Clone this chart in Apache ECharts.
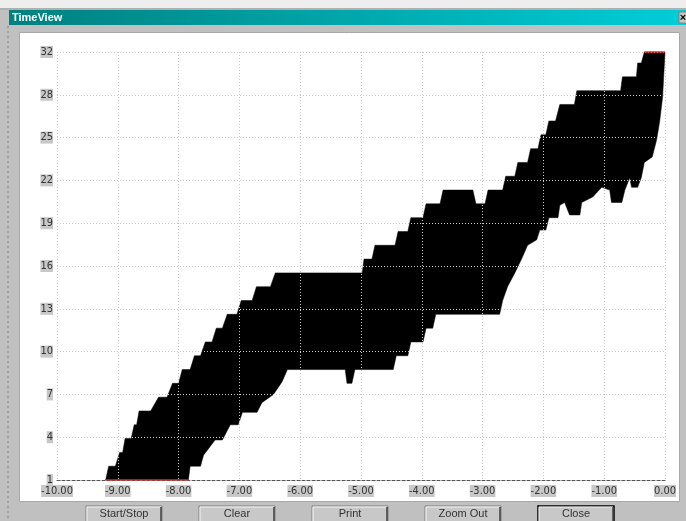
<!DOCTYPE html>
<html><head><meta charset="utf-8">
<script src="https://cdn.jsdelivr.net/npm/echarts@6/dist/echarts.min.js"></script>
<style>html,body{margin:0;padding:0;background:#c0c0c0;overflow:hidden}#c{width:686px;height:521px;}</style>
</head><body><div id="c"></div>
<script>
// ---- data ----
const xTickLabels = ['-10.00','-9.00','-8.00','-7.00','-6.00','-5.00','-4.00','-3.00','-2.00','-1.00','0.00'];
const yTickLabels = ['1','4','7','10','13','16','19','22','25','28','32'];

// upper boundary of the black band (left -> right)
const upperX = [-9.20,-9.15,-9.04,-8.97,-8.92,-8.88,-8.78,-8.73,-8.69,-8.65,-8.46,-8.33,-8.19,-8.10,-8.00,-7.94,-7.81,-7.74,-7.64,-7.56,-7.45,-7.38,-7.28,-7.20,-7.04,-6.97,-6.79,-6.72,-6.49,-6.41,-4.98,-4.95,-4.82,-4.77,-4.44,-4.39,-4.23,-4.18,-3.98,-3.93,-3.70,-3.65,-3.16,-3.11,-2.96,-2.91,-2.67,-2.62,-2.47,-2.42,-2.26,-2.21,-2.09,-2.04,-1.96,-1.91,-1.80,-1.73,-1.49,-1.45,-0.73,-0.70,-0.47,-0.45,-0.39,-0.34,0.00];
const upperY = [1,2,2,3,3,4,4,5,5,6,6,7,7,8,8,9,9,10,10,11,11,12,12,13,13,14,14,15,15,16,16,17,17,18,18,19,19,20,20,21,21,22,22,21,21,22,22,23,23,24,24,25,25,26,26,27,27,28.2,28.2,29.2,29.2,30.2,30.2,31.2,31.2,32,32];

// lower boundary of the black band (left -> right)
const lowerX = [-9.20,-7.84,-7.81,-7.64,-7.59,-7.40,-7.28,-7.15,-7.02,-6.95,-6.71,-6.63,-6.44,-6.30,-6.21,-5.26,-5.23,-5.15,-5.10,-4.47,-4.42,-4.23,-4.18,-3.98,-3.93,-3.82,-3.77,-2.72,-2.67,-2.59,-2.47,-2.36,-2.26,-2.11,-2.06,-1.96,-1.91,-1.76,-1.73,-1.65,-1.57,-1.40,-1.37,-1.19,-1.04,-0.91,-0.88,-0.71,-0.66,-0.58,-0.55,-0.45,-0.39,-0.34,-0.21,-0.14,-0.09,-0.04,0.00];
const lowerY = [1,1,2,2,2.8,3.9,3.9,5,5,5.9,5.9,6.6,7.2,8.1,9,9,8,8,9,9,10,10,11,11,12,12,13,13,14,15,16,17,18,18.4,19.1,19.1,20,20,20.9,21.1,20.2,20.2,21.1,21.5,22.2,22,21.1,21.1,22,22.9,22.2,22.2,22.9,24,24.4,25.6,26.9,28.7,32];

// red edge segments
const redBottomX = [-9.20,-7.84], redBottomY = [1,1];
const redTopX = [-0.34,0.00], redTopY = [32,32];

const buttonLabels = ['Start/Stop','Clear','Print','Zoom Out','Close'];

// ---- chart ----
const chart = echarts.init(document.getElementById('c'), null, {renderer:'canvas'});
const lblFont = "'Liberation Sans Narrow','DejaVu Sans Condensed','Liberation Sans',Arial,sans-serif";

const btnElems = [];
buttonLabels.forEach((t,i)=>{
  const x = 86 + i*113;
  btnElems.push({type:'rect', z:1, shape:{x:x,y:506,width:76,height:22},
    style:{fill:'#c8c8c8', stroke: i===4 ? '#000' : '#808080', lineWidth: i===4?1.5:1}});
  btnElems.push({type:'polyline', z:2, shape:{points:[[x+1,527],[x+1,507],[x+75,507]]}, style:{stroke:'#f4f4f4',lineWidth:1, fill:null}});
  btnElems.push({type:'polyline', z:2, shape:{points:[[x+75,507],[x+75,527]]}, style:{stroke:'#404040',lineWidth:1.5, fill:null}});
  btnElems.push({type:'text', z:3, style:{x:x+38, y:514, text:t, fill:'#333', font:'11px Arial,Liberation Sans,sans-serif', textAlign:'center', textVerticalAlign:'middle'}});
});

const option = {
  backgroundColor:'#c0c0c0',
  animation:false,
  graphic:{elements:[
    {type:'rect', z:-20, shape:{x:0,y:0,width:686,height:8}, style:{fill:'#eeeeee'}},
    {type:'rect', z:-20, shape:{x:0,y:8,width:686,height:2}, style:{fill:'#b0b0b0'}},
    {type:'rect', z:-20, shape:{x:9,y:10,width:677,height:15}, style:{fill:new echarts.graphic.LinearGradient(0,0,1,0,[{offset:0,color:'#00807f'},{offset:1,color:'#00ced8'}])}},
    {type:'text', z:-19, style:{x:12,y:18,text:'TimeView',fill:'#fff',font:'bold 11px Arial,Liberation Sans,sans-serif',textVerticalAlign:'middle'}},
    {type:'rect', z:-19, shape:{x:679,y:12,width:9,height:11}, style:{fill:'#c8c8c8', stroke:'#808080'}},
    {type:'text', z:-18, style:{x:683,y:18,text:'×',fill:'#000',font:'bold 11px Arial,sans-serif',textAlign:'center',textVerticalAlign:'middle'}},
    {type:'line', z:-20, shape:{x1:8,y1:26,x2:8,y2:521}, style:{stroke:'#808080', lineDash:[2,3], lineWidth:1}},
    {type:'rect', z:-15, shape:{x:19.5,y:32.5,width:660,height:469}, style:{fill:'#ffffff', stroke:'#a8a8a8', lineWidth:1}},
    ...btnElems
  ]},
  grid:{left:57, right:21, top:52, bottom:41, containLabel:false},
  xAxis:{type:'value', min:-10, max:0, interval:1, z:5,
    axisLine:{show:true, onZero:false, lineStyle:{color:'#555', type:[3,2], width:1}},
    axisTick:{show:false},
    splitLine:{show:true, lineStyle:{color:'#c8c8c8', type:[1,2], width:1}},
    axisLabel:{margin:5, color:'#333', fontSize:11, fontFamily:lblFont, backgroundColor:'#c8c8c8', padding:[1,0,0,0],
      formatter:v=>xTickLabels[Math.round(v+10)]}
  },
  yAxis:[
    {type:'value', min:1, max:32, show:false},
    {type:'value', min:0, max:31, interval:3.1, position:'left', z:5,
      axisLine:{show:false}, axisTick:{show:false},
      splitLine:{show:true, lineStyle:{color:'#c8c8c8', type:[1,2], width:1}},
      axisLabel:{margin:4, color:'#333', fontSize:11, fontFamily:lblFont, backgroundColor:'#c8c8c8', padding:[1,0,0,0],
        formatter:v=>yTickLabels[Math.round(v/3.1)]}
    }
  ],
  series:[
    {type:'custom', yAxisIndex:0, z:2, silent:true,
      data:[[upperX[0], upperY[0]]],
      renderItem:function(params, api){
        const pts=[];
        for(let i=0;i<upperX.length;i++) pts.push(api.coord([upperX[i], upperY[i]]));
        for(let i=lowerX.length-1;i>=0;i--) pts.push(api.coord([lowerX[i], lowerY[i]]));
        return {type:'polygon', shape:{points:pts}, style:{fill:'#000', stroke:'#000', lineWidth:0.5}};
      }
    },
    {type:'line', yAxisIndex:0, z:10, symbol:'none', lineStyle:{color:'#e02828', width:1.5},
      data: redBottomX.map((x,i)=>[x, redBottomY[i]])},
    {type:'line', yAxisIndex:0, z:10, symbol:'none', lineStyle:{color:'#e02828', width:1.5},
      data: redTopX.map((x,i)=>[x, redTopY[i]])}
  ]
};
chart.setOption(option);
</script>
</body></html>
